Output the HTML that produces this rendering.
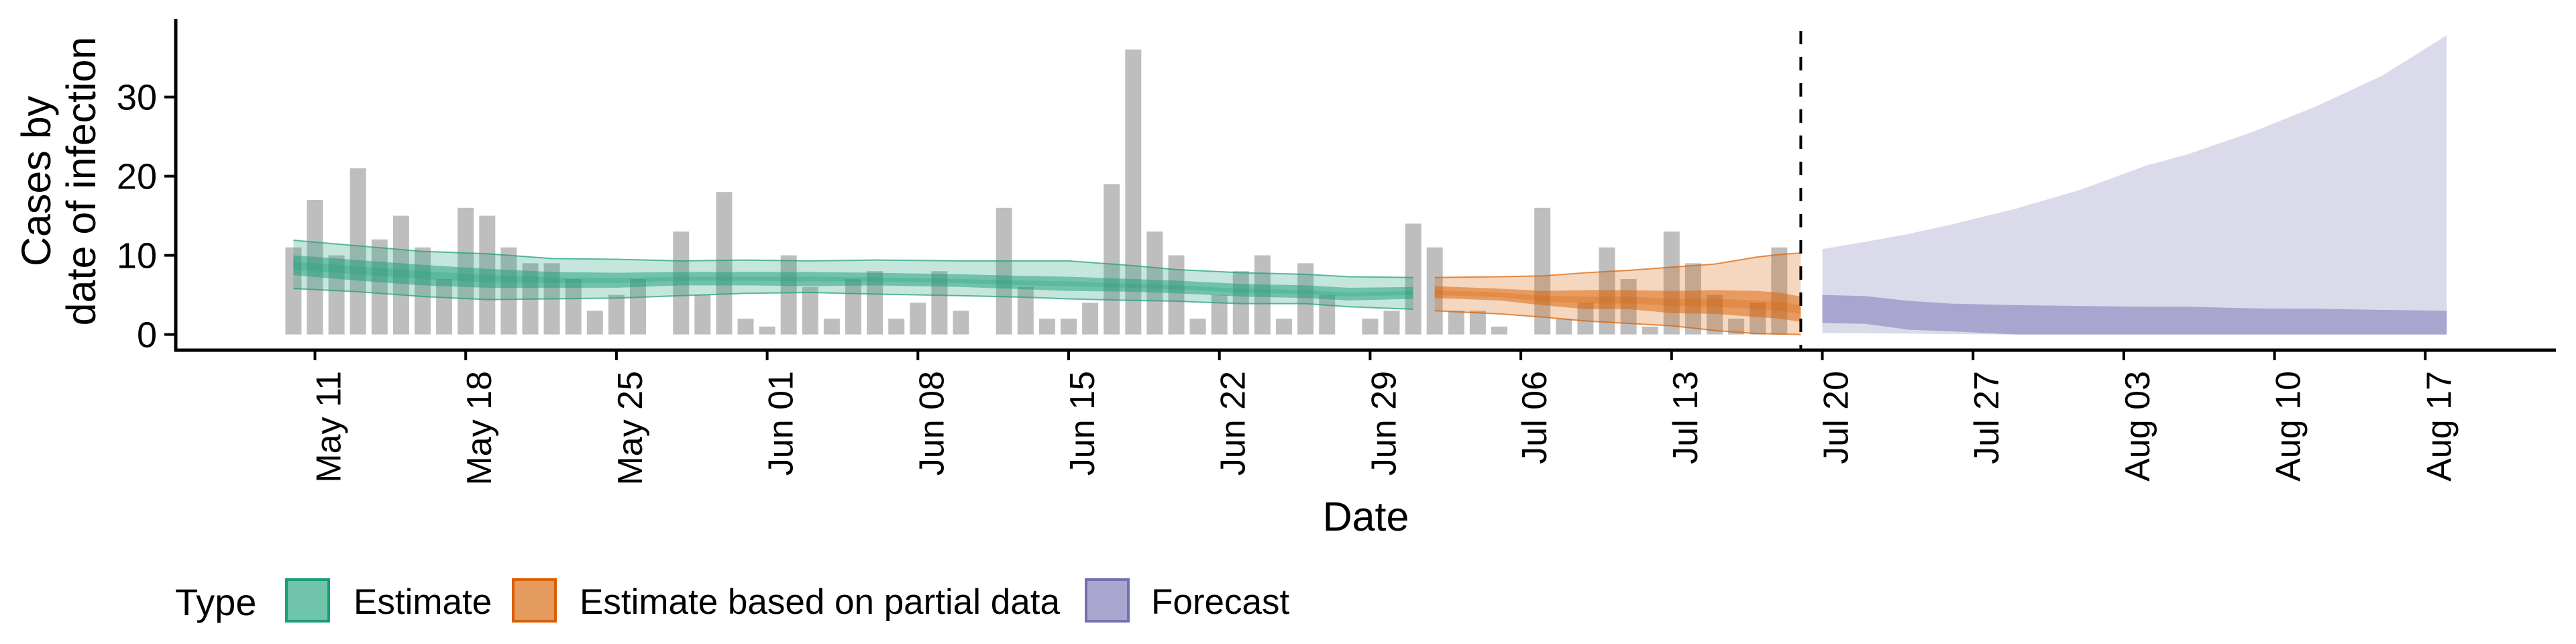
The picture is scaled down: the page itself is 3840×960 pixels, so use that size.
<!DOCTYPE html>
<html><head><meta charset="utf-8"><style>
html,body{margin:0;padding:0;background:#fff;}
svg{display:block;font-family:"Liberation Sans",Arial,sans-serif;}
</style></head><body>
<svg id="chart" width="3840" height="960" viewBox="0 0 3840 960" xmlns="http://www.w3.org/2000/svg">
<g id="plot"></g>
<g id="axes"></g>
</svg>
<script>
// ---- data ----
const barValues = [11,17,10,21,12,15,11,7,16,15,11,9,9,7,3,5,7,0,13,5,18,2,1,10,6,2,7,8,2,4,8,3,0,16,6,2,2,4,19,36,13,10,2,5,8,10,2,9,5,0,2,3,14,11,3,3,1,0,16,2,4,11,7,1,13,9,5,2,4,11];
const barStartDay = -1; // May 10

const estDays   = [-1,2,5,8,11,14,17,20,23,26,30,33,35,38,40,43,46,48,51];
const estUpper90= [11.9,11.2,10.5,10.2,9.6,9.5,9.3,9.4,9.3,9.4,9.3,9.3,9.3,8.7,8.2,7.8,7.6,7.3,7.2];
const estLower90= [5.8,5.4,4.8,4.4,4.5,4.6,4.9,5.2,5.3,5.1,4.9,4.7,4.5,4.3,4.2,3.9,3.9,3.5,3.2];
const estUpper50= [10.0,9.4,8.8,8.3,7.9,7.8,7.9,7.9,7.9,7.8,7.6,7.4,7.3,7.0,6.8,6.4,6.2,5.9,6.0];
const estLower50= [7.5,6.8,6.2,5.9,5.9,5.9,6.2,6.2,6.1,6.2,6.0,5.7,5.5,5.4,5.2,4.8,4.6,4.3,4.5];
const estUpper20= [9.2,8.6,8.0,7.5,7.2,7.1,7.3,7.3,7.3,7.2,7.0,6.8,6.7,6.4,6.2,5.8,5.6,5.3,5.5];
const estLower20= [8.2,7.6,7.0,6.6,6.5,6.5,6.8,6.8,6.7,6.7,6.5,6.2,6.1,5.9,5.7,5.3,5.1,4.8,5.0];

const partDays   = [52,55,57,59,61,63,65,67,68,69];
const partUpper90= [7.2,7.3,7.4,7.8,8.1,8.5,8.9,9.8,10.1,10.3];
const partLower90= [3.0,2.6,2.2,1.7,1.4,1.1,0.5,0.1,0.05,0.0];
const partUpper50= [6.1,5.8,5.5,5.6,5.6,5.5,5.6,5.5,5.3,4.8];
const partLower50= [4.6,4.3,3.7,3.2,3.2,2.7,2.6,2.2,2.0,1.6];
const partUpper20= [5.6,5.3,4.9,4.8,4.8,4.5,4.5,4.3,4.1,3.7];
const partLower20= [5.0,4.7,4.2,3.9,3.9,3.6,3.5,3.2,3.0,2.6];

const foreDays   = [70,72,74,76,79,82,85,87,90,93,96,99];
const foreUpper90= [10.8,11.7,12.7,13.9,15.9,18.3,21.3,22.8,25.6,28.9,32.7,37.8];
const foreLower90= [0.2,0.15,0.1,0.05,0,0,0,0,0,0,0,0];
const foreUpper50= [5.0,4.85,4.25,3.9,3.7,3.6,3.5,3.5,3.3,3.25,3.1,3.0];
const foreLower50= [1.45,1.35,0.6,0.4,0,0,0,0,0,0,0,0];

const xTickDays  = [0,7,14,21,28,35,42,49,56,63,70,77,84,91,98];
const xTickLabels= ["May 11","May 18","May 25","Jun 01","Jun 08","Jun 15","Jun 22","Jun 29","Jul 06","Jul 13","Jul 20","Jul 27","Aug 03","Aug 10","Aug 17"];
const yTicks     = [0,10,20,30];
const forecastStartDay = 69;

// ---- scales ----
const X0 = 469.5, PX_PER_DAY = 32.1;
const Y0 = 498.6, PX_PER_UNIT = 11.8;
const xs = d => X0 + d*PX_PER_DAY;
const ys = v => Y0 - v*PX_PER_UNIT;
const NS = "http://www.w3.org/2000/svg";
const plot = document.getElementById('plot');
const axes = document.getElementById('axes');
function mk(tag, attrs, parent){ const e=document.createElementNS(NS,tag); for(const k in attrs) e.setAttribute(k,attrs[k]); parent.appendChild(e); return e; }

// bars
barValues.forEach((v,i)=>{
  if(v<=0) return;
  const d = barStartDay+i;
  const r = mk('rect',{x:xs(d)-12,y:ys(v),width:24,height:ys(0)-ys(v),fill:'#bebebe'},plot);
  
  
});

function ribbon(days, up, lo, color, op, name, outline){
  let p = days.map((d,i)=>(i?'L':'M')+xs(d).toFixed(1)+','+ys(up[i]).toFixed(1)).join(' ');
  for(let i=days.length-1;i>=0;i--) p += ' L'+xs(days[i]).toFixed(1)+','+ys(lo[i]).toFixed(1);
  const e = mk('path',{d:p+' Z',fill:color,'fill-opacity':op},plot);
  
  
  if(outline){
    const u = mk('path',{d:days.map((d,i)=>(i?'L':'M')+xs(d)+','+ys(up[i])).join(' '),fill:'none',stroke:color,'stroke-width':2,'stroke-opacity':0.7},plot);
    
    
    const l = mk('path',{d:days.map((d,i)=>(i?'L':'M')+xs(d)+','+ys(lo[i])).join(' '),fill:'none',stroke:color,'stroke-width':2,'stroke-opacity':0.7},plot);
    
    
  }
}
ribbon(estDays,estUpper90,estLower90,'#1B9E77',0.26,'estimate-ci90',true);
ribbon(estDays,estUpper50,estLower50,'#1B9E77',0.5,'estimate-ci50',false);
ribbon(estDays,estUpper20,estLower20,'#1B9E77',0.25,'estimate-ci20',false);
ribbon(partDays,partUpper90,partLower90,'#D95F02',0.26,'partial-ci90',true);
ribbon(partDays,partUpper50,partLower50,'#D95F02',0.5,'partial-ci50',false);
ribbon(partDays,partUpper20,partLower20,'#D95F02',0.25,'partial-ci20',false);
ribbon(foreDays,foreUpper90,foreLower90,'#7570B3',0.26,'forecast-ci90',false);
ribbon(foreDays,foreUpper50,foreLower50,'#7570B3',0.5,'forecast-ci50',false);

// dashed line
const dl = mk('line',{x1:xs(forecastStartDay),x2:xs(forecastStartDay),y1:46,y2:522,stroke:'#000','stroke-width':4,'stroke-dasharray':'20 19'},plot);



// axes
const ya = mk('line',{x1:262,x2:262,y1:28,y2:524,stroke:'#000','stroke-width':5},axes);


const xa = mk('line',{x1:260,x2:3810,y1:522,y2:522,stroke:'#000','stroke-width':5},axes);



yTicks.forEach(v=>{
  const t = mk('line',{x1:245,x2:262,y1:ys(v),y2:ys(v),stroke:'#000','stroke-width':4},axes);
  
  
  const l = mk('text',{x:234,y:ys(v)+19,'text-anchor':'end','font-size':54,fill:'#000'},axes);
  l.textContent = v;
  
  
});
xTickDays.forEach((d,i)=>{
  const x = xs(d);
  const t = mk('line',{x1:x,x2:x,y1:522,y2:537,stroke:'#000','stroke-width':4},axes);
  
  
  const l = mk('text',{x:0,y:0,'text-anchor':'end','font-size':52,fill:'#000',transform:`translate(${x+38},553) rotate(-90)`},axes);
  l.textContent = xTickLabels[i];
  
  
});
</script>
<svg style="position:absolute;left:0;top:0" width="3840" height="960" xmlns="http://www.w3.org/2000/svg">
<g font-family="Liberation Sans, Arial, sans-serif" fill="#000">
<text font-size="61" text-anchor="middle" transform="translate(75,270) rotate(-90)">Cases by</text>
<text font-size="61" text-anchor="middle" transform="translate(142,270) rotate(-90)">date of infection</text>
<text font-size="61" x="2036" y="791" text-anchor="middle">Date</text>
<g>
<text font-size="56" x="261" y="917">Type</text>
<rect x="427" y="864" width="63" height="62" fill="#70c4aa" stroke="#1B9E77" stroke-width="4"/>
<text font-size="53" x="527" y="915">Estimate</text>
<rect x="765" y="864" width="63" height="62" fill="#e59a5e" stroke="#D95F02" stroke-width="4"/>
<text font-size="53" x="864" y="915">Estimate based on partial data</text>
<rect x="1619" y="864" width="63" height="62" fill="#a9a6d0" stroke="#7570B3" stroke-width="4"/>
<text font-size="53" x="1716" y="915">Forecast</text>
</g>
</g>
</svg>
</body></html>
